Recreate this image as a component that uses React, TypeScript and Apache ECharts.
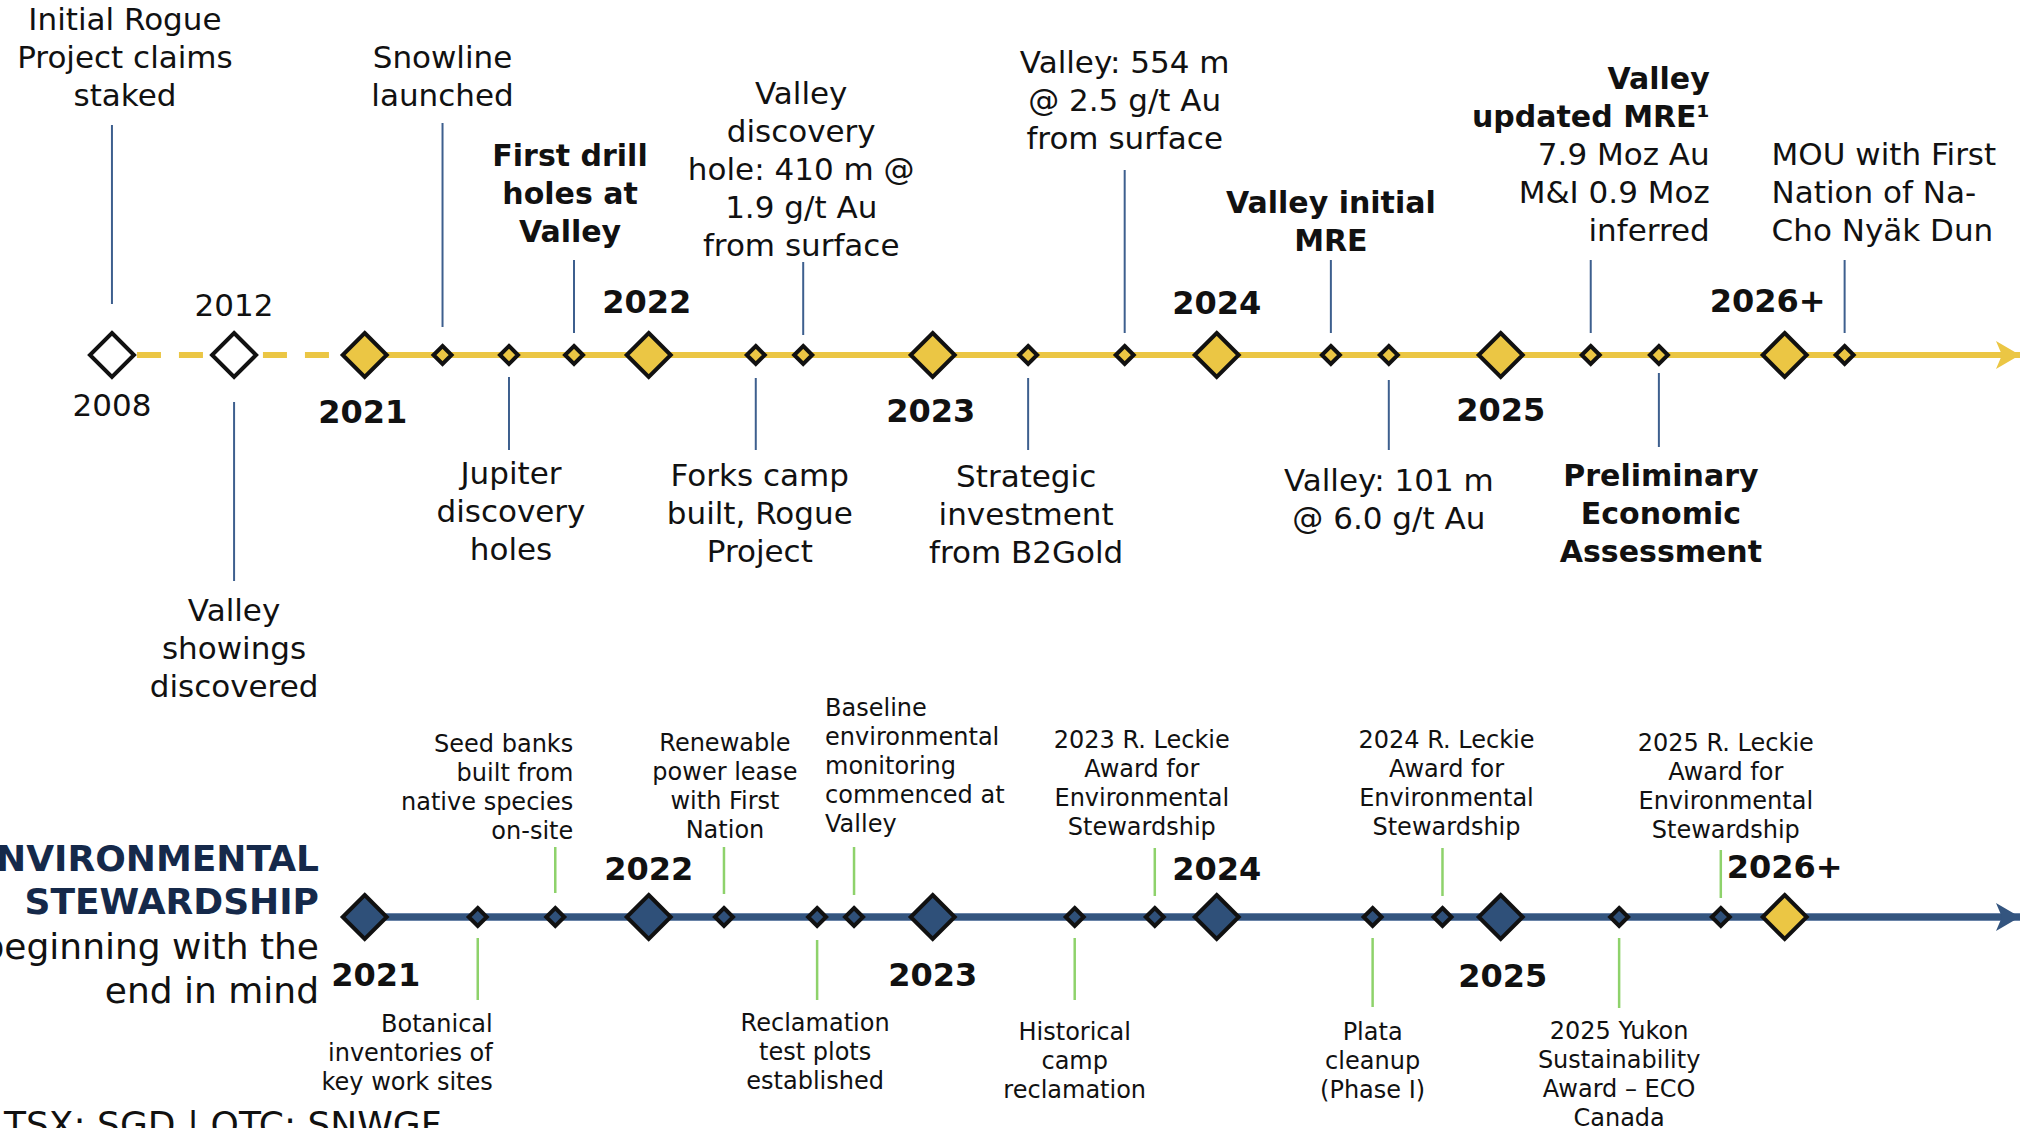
import React, { useEffect, useRef } from "react";
import * as echarts from "echarts";

// ---------------- DATA ----------------
// Milestone years on the exploration (top) timeline and their positions on the time axis
// (years before 2021 are shown on a compressed stretch of the axis)
const milestoneYears = ["2008", "2012", "2021", "2022", "2023", "2024", "2025", "2026+"];
const milestonePositions = [2020.11, 2020.54, 2021, 2022, 2023, 2024, 2025, 2026];

// Exploration / corporate events (top timeline)
const explorationEvents = [
  "Initial Rogue\nProject claims\nstaked",
  "Valley\nshowings\ndiscovered",
  "Snowline\nlaunched",
  "Jupiter\ndiscovery\nholes",
  "First drill\nholes at\nValley",
  "Forks camp\nbuilt, Rogue\nProject",
  "Valley\ndiscovery\nhole: 410 m @\n1.9 g/t Au\nfrom surface",
  "Strategic\ninvestment\nfrom B2Gold",
  "Valley: 554 m\n@ 2.5 g/t Au\nfrom surface",
  "Valley initial\nMRE",
  "Valley: 101 m\n@ 6.0 g/t Au",
  "Valley\nupdated MRE¹\n7.9 Moz Au\nM&I 0.9 Moz\ninferred",
  "Preliminary\nEconomic\nAssessment",
  "MOU with First\nNation of Na-\nCho Nyäk Dun",
];
const explorationPositions = [
  2020.11, 2020.54, 2021.274, 2021.508, 2021.737, 2022.377, 2022.544, 2023.336,
  2023.676, 2024.402, 2024.606, 2025.317, 2025.557, 2026.211,
];

// Stewardship timeline (bottom)
const stewardshipYears = ["2021", "2022", "2023", "2024", "2025", "2026+"];
const stewardshipYearPositions = [2021, 2022, 2023, 2024, 2025, 2026];

const stewardshipEvents = [
  "Botanical\ninventories of\nkey work sites",
  "Seed banks\nbuilt from\nnative species\non-site",
  "Renewable\npower lease\nwith First\nNation",
  "Reclamation\ntest plots\nestablished",
  "Baseline\nenvironmental\nmonitoring\ncommenced at\nValley",
  "Historical\ncamp\nreclamation",
  "2023 R. Leckie\nAward for\nEnvironmental\nStewardship",
  "Plata\ncleanup\n(Phase I)",
  "2024 R. Leckie\nAward for\nEnvironmental\nStewardship",
  "2025 Yukon\nSustainability\nAward – ECO\nCanada",
  "2025 R. Leckie\nAward for\nEnvironmental\nStewardship",
];
const stewardshipPositions = [
  2021.398, 2021.671, 2022.265, 2022.593, 2022.723, 2023.5, 2023.782, 2024.549,
  2024.795, 2025.417, 2025.775,
];

const titleLines = ["ENVIRONMENTAL", "STEWARDSHIP"];
const subtitleLines = ["beginning with the", "end in mind"];
const tickerText = "TSX: SGD | OTC: SNWGF";

// ---------------- LAYOUT / STYLE ----------------
const FONT = "'DejaVu Sans', sans-serif";
const YELLOW = "#EBC644";
const NAVY = "#2F5079";
const NAVY_LINE = "#34557F";
const TOP_CONNECTOR = "#3D5F8E";
const GREEN = "#8ED26B";
const TITLE_NAVY = "#15294A";
const INK = "#111111";

const TOP_ROW = 1;
const BOTTOM_ROW = 0;
const X_MIN = 2019.7158;
const X_MAX = 2026.8743;
const TRACK_END = 2026.8285;

type EvLayout = { l0: number; l1: number; dx: number; dy: number; align: string; bold: number };

const explorationLayout: EvLayout[] = [
  { l0: -230, l1: -51, dx: 13, dy: -298, align: "center", bold: 0 },
  { l0: 47, l1: 226, dx: 0, dy: 293, align: "center", bold: 0 },
  { l0: -232, l1: -28, dx: 0, dy: -279, align: "center", bold: 0 },
  { l0: 22, l1: 95, dx: 2, dy: 156, align: "center", bold: 0 },
  { l0: -95, l1: -22, dx: -4, dy: -162, align: "center", bold: 9 },
  { l0: 23, l1: 95, dx: 4, dy: 158, align: "center", bold: 0 },
  { l0: -93, l1: -20, dx: -2, dy: -186, align: "center", bold: 0 },
  { l0: 23, l1: 95, dx: -2, dy: 159, align: "center", bold: 0 },
  { l0: -185, l1: -22, dx: 0, dy: -255, align: "center", bold: 0 },
  { l0: -95, l1: -22, dx: 0, dy: -134, align: "center", bold: 9 },
  { l0: 25, l1: 95, dx: 0, dy: 144, align: "center", bold: 0 },
  { l0: -95, l1: -22, dx: 119, dy: -201, align: "right", bold: 2 },
  { l0: 18, l1: 92, dx: 2, dy: 158, align: "center", bold: 9 },
  { l0: -95, l1: -22, dx: -73, dy: -163, align: "left", bold: 0 },
];

const stewardshipLayout: EvLayout[] = [
  { l0: 21, l1: 83, dx: 15, dy: 136, align: "right", bold: 0 },
  { l0: -70, l1: -24, dx: 18, dy: -130, align: "right", bold: 0 },
  { l0: -70, l1: -23, dx: 1, dy: -131, align: "center", bold: 0 },
  { l0: 23, l1: 83, dx: -2, dy: 135, align: "center", bold: 0 },
  { l0: -70, l1: -22, dx: -29, dy: -151, align: "left", bold: 0 },
  { l0: 21, l1: 83, dx: 0, dy: 144, align: "center", bold: 0 },
  { l0: -69, l1: -21, dx: -13, dy: -134, align: "center", bold: 0 },
  { l0: 21, l1: 90, dx: 0, dy: 144, align: "center", bold: 0 },
  { l0: -69, l1: -21, dx: 4, dy: -134, align: "center", bold: 0 },
  { l0: 21, l1: 91, dx: 0, dy: 157, align: "center", bold: 0 },
  { l0: -67, l1: -19, dx: 5, dy: -131, align: "center", bold: 0 },
];

const milestoneLabelLayout = [
  { dx: 0, dy: 50, bold: false },
  { dx: 0, dy: -50, bold: false },
  { dx: -2, dy: 57, bold: true },
  { dx: -2, dy: -53, bold: true },
  { dx: -2, dy: 56, bold: true },
  { dx: 0, dy: -52, bold: true },
  { dx: 0, dy: 55, bold: true },
  { dx: -17, dy: -54, bold: true },
];
const stewardshipYearLayout = [
  { dx: 11, dy: 58 },
  { dx: 0, dy: -48 },
  { dx: 0, dy: 58 },
  { dx: 0, dy: -48 },
  { dx: 2, dy: 59 },
  { dx: 0, dy: -50 },
];

type EvOpts = { size: number; boldSize: number; lineHeight: number; lineColor: string; lineWidth: number };

function makeEventRenderer(texts: string[], layout: EvLayout[], o: EvOpts) {
  return (params: any, api: any) => {
    const i = params.dataIndex;
    const p = api.coord([api.value(0), api.value(1)]);
    const L = layout[i];
    const lines = texts[i].split("\n");
    const allBold = L.bold >= lines.length;
    let text = texts[i];
    let rich: any = undefined;
    if (L.bold > 0 && !allBold) {
      text = lines.map((s, k) => (k < L.bold ? `{b|${s}}` : `{r|${s}}`)).join("\n");
      rich = {
        b: { fontFamily: FONT, fontSize: o.boldSize, fontWeight: "bold", lineHeight: o.lineHeight, fill: INK },
        r: { fontFamily: FONT, fontSize: o.size, fontWeight: "normal", lineHeight: o.lineHeight, fill: INK },
      };
    }
    return {
      type: "group",
      children: [
        {
          type: "line",
          shape: { x1: p[0], y1: p[1] + L.l0, x2: p[0], y2: p[1] + L.l1 },
          style: { stroke: o.lineColor, lineWidth: o.lineWidth },
        },
        {
          type: "text",
          x: p[0] + L.dx,
          y: p[1] + L.dy,
          style: {
            text,
            rich,
            fill: INK,
            fontFamily: FONT,
            fontSize: allBold ? o.boldSize : o.size,
            fontWeight: allBold ? "bold" : "normal",
            lineHeight: o.lineHeight,
            align: L.align,
            verticalAlign: "middle",
          },
        },
      ],
    };
  };
}

function makeYearRenderer(labels: string[], layout: { dx: number; dy: number; bold?: boolean }[]) {
  return (params: any, api: any) => {
    const i = params.dataIndex;
    const p = api.coord([api.value(0), api.value(1)]);
    const L = layout[i];
    const bold = L.bold !== false;
    return {
      type: "text",
      x: p[0] + L.dx,
      y: p[1] + L.dy,
      style: {
        text: labels[i],
        fill: INK,
        fontFamily: FONT,
        fontSize: bold ? 32 : 31,
        fontWeight: bold ? "bold" : "normal",
        align: "center",
        verticalAlign: "middle",
      },
    };
  };
}

function buildOption(): any {
  const topSmall = explorationPositions.filter((p) => p > 2021).map((p) => [p, TOP_ROW]);
  return {
    animation: false,
    backgroundColor: "#ffffff",
    grid: { left: 0, right: 0, top: 355, bottom: 211 },
    xAxis: { type: "value", min: X_MIN, max: X_MAX, show: false },
    yAxis: { type: "value", min: 0, max: 1, show: false },
    graphic: [
      ...titleLines.map((t, k) => ({
        type: "text",
        x: 319,
        y: 858 + k * 43,
        silent: true,
        style: { text: t, fill: TITLE_NAVY, fontFamily: FONT, fontSize: 36, fontWeight: "bold", align: "right", verticalAlign: "middle" },
      })),
      ...subtitleLines.map((t, k) => ({
        type: "text",
        x: 319,
        y: 946 + k * 44,
        silent: true,
        style: { text: t, fill: INK, fontFamily: FONT, fontSize: 36, align: "right", verticalAlign: "middle" },
      })),
      {
        type: "text",
        x: 4,
        y: 1124,
        silent: true,
        style: { text: tickerText, fill: INK, fontFamily: FONT, fontSize: 36, align: "left", verticalAlign: "middle" },
      },
    ],
    series: [
      // top track: dashed pre-2021 part
      {
        type: "line",
        silent: true,
        z: 1,
        symbol: "none",
        data: [[milestonePositions[0], TOP_ROW], [milestonePositions[2], TOP_ROW]],
        lineStyle: { color: YELLOW, width: 6, type: [24, 18], dashOffset: 17 },
      },
      // top track: solid
      {
        type: "line",
        silent: true,
        z: 1,
        symbol: "none",
        data: [[milestonePositions[2], TOP_ROW], [TRACK_END, TOP_ROW]],
        lineStyle: { color: YELLOW, width: 6 },
      },
      // bottom track (outline + core)
      {
        type: "line",
        silent: true,
        z: 1,
        symbol: "none",
        data: [[stewardshipYearPositions[0], BOTTOM_ROW], [TRACK_END, BOTTOM_ROW]],
        lineStyle: { color: "#6A84A8", width: 8 },
      },
      {
        type: "line",
        silent: true,
        z: 1,
        symbol: "none",
        data: [[stewardshipYearPositions[0], BOTTOM_ROW], [TRACK_END, BOTTOM_ROW]],
        lineStyle: { color: NAVY_LINE, width: 6 },
      },
      // arrow heads
      {
        type: "scatter",
        silent: true,
        z: 3,
        symbol: "arrow",
        symbolSize: [21, 24],
        symbolRotate: -90,
        itemStyle: { opacity: 1 },
        data: [
          { value: [TRACK_END, TOP_ROW], itemStyle: { color: YELLOW } },
          { value: [TRACK_END, BOTTOM_ROW], itemStyle: { color: NAVY_LINE } },
        ],
      },
      // connectors + labels
      {
        type: "custom",
        silent: true,
        z: 2,
        data: explorationPositions.map((p) => [p, TOP_ROW]),
        renderItem: makeEventRenderer(explorationEvents, explorationLayout, {
          size: 31,
          boldSize: 30,
          lineHeight: 38,
          lineColor: TOP_CONNECTOR,
          lineWidth: 2,
        }),
      },
      {
        type: "custom",
        silent: true,
        z: 2,
        data: stewardshipPositions.map((p) => [p, BOTTOM_ROW]),
        renderItem: makeEventRenderer(stewardshipEvents, stewardshipLayout, {
          size: 24,
          boldSize: 24,
          lineHeight: 29,
          lineColor: GREEN,
          lineWidth: 2.5,
        }),
      },
      // big diamonds
      {
        type: "scatter",
        silent: true,
        z: 4,
        symbol: "diamond",
        symbolSize: 44,
        itemStyle: { borderColor: INK, borderWidth: 4, opacity: 1 },
        data: milestonePositions.map((p, i) => ({
          value: [p, TOP_ROW],
          itemStyle: { color: i < 2 ? "#ffffff" : YELLOW },
        })),
      },
      {
        type: "scatter",
        silent: true,
        z: 4,
        symbol: "diamond",
        symbolSize: 44,
        itemStyle: { borderColor: INK, borderWidth: 4, opacity: 1 },
        data: stewardshipYearPositions.map((p, i) => ({
          value: [p, BOTTOM_ROW],
          itemStyle: { color: i === stewardshipYearPositions.length - 1 ? YELLOW : NAVY },
        })),
      },
      // small diamonds
      {
        type: "scatter",
        silent: true,
        z: 4,
        symbol: "diamond",
        symbolSize: 18,
        itemStyle: { color: YELLOW, borderColor: INK, borderWidth: 4, opacity: 1 },
        data: topSmall,
      },
      {
        type: "scatter",
        silent: true,
        z: 4,
        symbol: "diamond",
        symbolSize: 18,
        itemStyle: { color: NAVY, borderColor: INK, borderWidth: 4, opacity: 1 },
        data: stewardshipPositions.map((p) => [p, BOTTOM_ROW]),
      },
      // year labels
      {
        type: "custom",
        silent: true,
        z: 5,
        data: milestonePositions.map((p) => [p, TOP_ROW]),
        renderItem: makeYearRenderer(milestoneYears, milestoneLabelLayout),
      },
      {
        type: "custom",
        silent: true,
        z: 5,
        data: stewardshipYearPositions.map((p) => [p, BOTTOM_ROW]),
        renderItem: makeYearRenderer(stewardshipYears, stewardshipYearLayout),
      },
    ],
  };
}

export default function App() {
  const ref = useRef<HTMLDivElement>(null);
  useEffect(() => {
    document.body.style.margin = "0";
    const chart = echarts.init(ref.current as HTMLDivElement, null, { renderer: "svg" });
    chart.setOption(buildOption());
    return () => chart.dispose();
  }, []);
  return (
    <div
      ref={ref}
      style={{ position: "absolute", left: 0, top: 0, width: 2033, height: 1128, background: "#ffffff", overflow: "hidden" }}
    />
  );
}
